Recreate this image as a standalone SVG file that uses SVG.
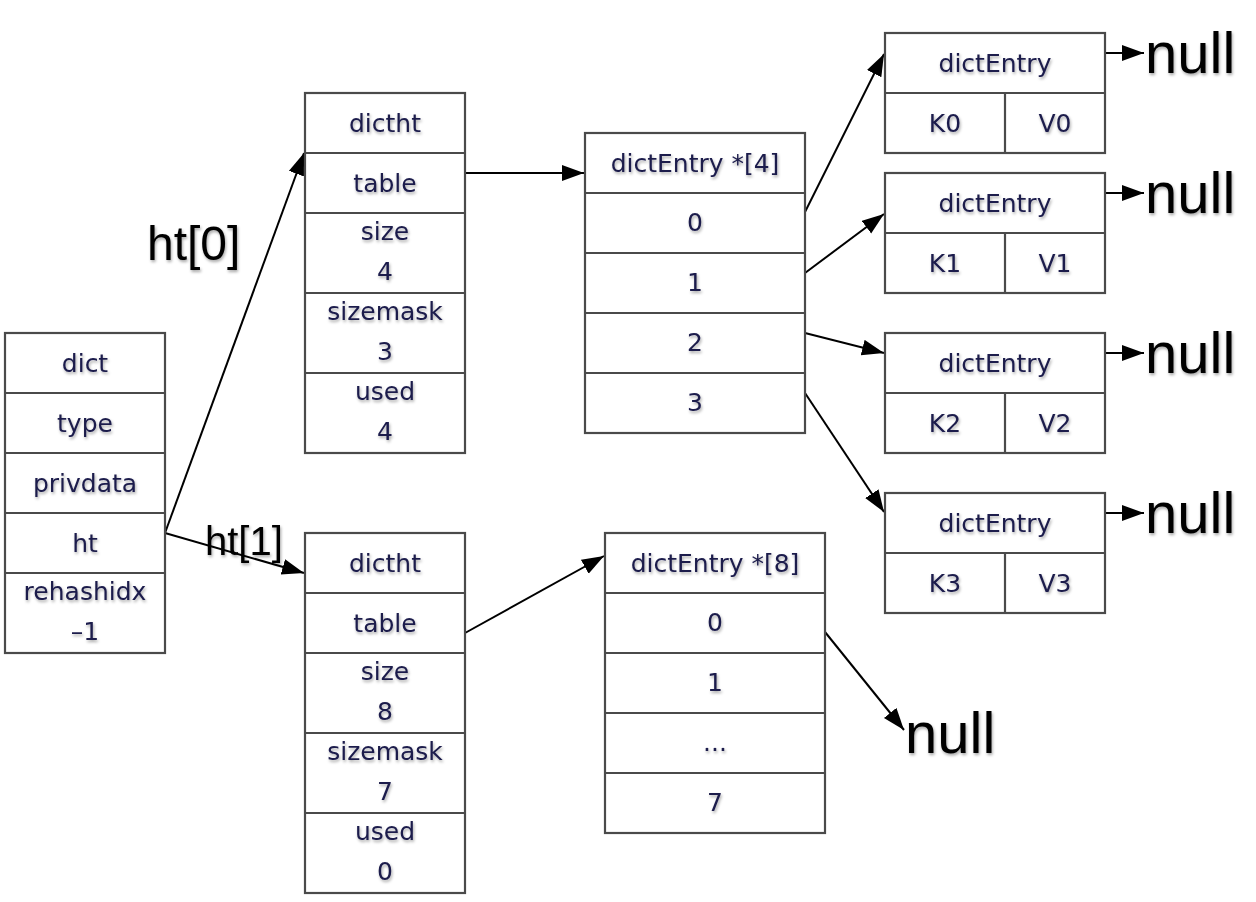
<svg xmlns="http://www.w3.org/2000/svg" width="1256" height="902" viewBox="0 0 1256 902">
<style>
.box{fill:#fff;stroke:#4a4a4a;stroke-width:2.2}
.sep{stroke:#4a4a4a;stroke-width:2.2}
.t{font-family:"DejaVu Sans",sans-serif;font-size:25px;fill:#1b1b4b;text-anchor:middle;filter:url(#sh)}
.big{font-family:"Liberation Sans",Arial,sans-serif;fill:#000;filter:url(#sh)}
.c{stroke:#000;stroke-width:2;fill:none;marker-end:url(#ah)}
</style>
<defs>
<filter id="sh" x="-20%" y="-30%" width="140%" height="170%">
<feDropShadow dx="1" dy="2" stdDeviation="1.5" flood-color="#000" flood-opacity="0.35"/>
</filter>
<marker id="ah" markerUnits="userSpaceOnUse" markerWidth="24" markerHeight="18" refX="22" refY="8" orient="auto">
<path d="M0,0 L22,8 L0,16 z" fill="#000"/>
</marker>
</defs>
<rect width="1256" height="902" fill="#fff"/>

<g id="connectors">
<line class="c" x1="165" y1="533" x2="304" y2="153"/>
<line class="c" x1="165" y1="533" x2="304" y2="573"/>
<line class="c" x1="465" y1="173" x2="584" y2="173"/>
<line class="c" x1="465" y1="633" x2="604" y2="556"/>
<line class="c" x1="805" y1="212" x2="884" y2="54"/>
<line class="c" x1="805" y1="273" x2="884" y2="214"/>
<line class="c" x1="805" y1="333" x2="884" y2="353"/>
<line class="c" x1="805" y1="393" x2="884" y2="512"/>
<line class="c" x1="825" y1="632" x2="904" y2="730"/>
<line class="c" x1="1105" y1="53" x2="1144" y2="53"/>
<line class="c" x1="1105" y1="193" x2="1144" y2="193"/>
<line class="c" x1="1105" y1="353" x2="1144" y2="353"/>
<line class="c" x1="1105" y1="513" x2="1144" y2="513"/>
</g>

<g id="labels">
<text class="big" x="147" y="260" font-size="48">ht[0]</text>
<text class="big" x="205" y="555" font-size="40">ht[1]</text>
<text class="big" x="1145" y="73" font-size="58">null</text>
<text class="big" x="1145" y="213" font-size="58">null</text>
<text class="big" x="1145" y="373" font-size="58">null</text>
<text class="big" x="1145" y="533" font-size="58">null</text>
<text class="big" x="905" y="753" font-size="58">null</text>
</g>

<g id="dict">
<rect class="box" x="5" y="333" width="160" height="320"/>
<line class="sep" x1="5" y1="393" x2="165" y2="393"/>
<line class="sep" x1="5" y1="453" x2="165" y2="453"/>
<line class="sep" x1="5" y1="513" x2="165" y2="513"/>
<line class="sep" x1="5" y1="573" x2="165" y2="573"/>
<text class="t" x="85" y="372">dict</text>
<text class="t" x="85" y="432">type</text>
<text class="t" x="85" y="492">privdata</text>
<text class="t" x="85" y="552">ht</text>
<text class="t" x="85" y="600">rehashidx</text>
<text class="t" x="85" y="640">–1</text>
</g>

<g id="dictht0">
<rect class="box" x="305" y="93" width="160" height="360"/>
<line class="sep" x1="305" y1="153" x2="465" y2="153"/>
<line class="sep" x1="305" y1="213" x2="465" y2="213"/>
<line class="sep" x1="305" y1="293" x2="465" y2="293"/>
<line class="sep" x1="305" y1="373" x2="465" y2="373"/>
<text class="t" x="385" y="132">dictht</text>
<text class="t" x="385" y="192">table</text>
<text class="t" x="385" y="240">size</text>
<text class="t" x="385" y="280">4</text>
<text class="t" x="385" y="320">sizemask</text>
<text class="t" x="385" y="360">3</text>
<text class="t" x="385" y="400">used</text>
<text class="t" x="385" y="440">4</text>
</g>

<g id="dictht1">
<rect class="box" x="305" y="533" width="160" height="360"/>
<line class="sep" x1="305" y1="593" x2="465" y2="593"/>
<line class="sep" x1="305" y1="653" x2="465" y2="653"/>
<line class="sep" x1="305" y1="733" x2="465" y2="733"/>
<line class="sep" x1="305" y1="813" x2="465" y2="813"/>
<text class="t" x="385" y="572">dictht</text>
<text class="t" x="385" y="632">table</text>
<text class="t" x="385" y="680">size</text>
<text class="t" x="385" y="720">8</text>
<text class="t" x="385" y="760">sizemask</text>
<text class="t" x="385" y="800">7</text>
<text class="t" x="385" y="840">used</text>
<text class="t" x="385" y="880">0</text>
</g>

<g id="table4">
<rect class="box" x="585" y="133" width="220" height="300"/>
<line class="sep" x1="585" y1="193" x2="805" y2="193"/>
<line class="sep" x1="585" y1="253" x2="805" y2="253"/>
<line class="sep" x1="585" y1="313" x2="805" y2="313"/>
<line class="sep" x1="585" y1="373" x2="805" y2="373"/>
<text class="t" x="695" y="172">dictEntry *[4]</text>
<text class="t" x="695" y="231">0</text>
<text class="t" x="695" y="291">1</text>
<text class="t" x="695" y="351">2</text>
<text class="t" x="695" y="411">3</text>
</g>

<g id="table8">
<rect class="box" x="605" y="533" width="220" height="300"/>
<line class="sep" x1="605" y1="593" x2="825" y2="593"/>
<line class="sep" x1="605" y1="653" x2="825" y2="653"/>
<line class="sep" x1="605" y1="713" x2="825" y2="713"/>
<line class="sep" x1="605" y1="773" x2="825" y2="773"/>
<text class="t" x="715" y="572">dictEntry *[8]</text>
<text class="t" x="715" y="631">0</text>
<text class="t" x="715" y="691">1</text>
<text class="t" x="715" y="751">...</text>
<text class="t" x="715" y="811">7</text>
</g>

<g id="entry0">
<rect class="box" x="885" y="33" width="220" height="120"/>
<line class="sep" x1="885" y1="93" x2="1105" y2="93"/>
<line class="sep" x1="1005" y1="93" x2="1005" y2="153"/>
<text class="t" x="995" y="72">dictEntry</text>
<text class="t" x="945" y="132">K0</text>
<text class="t" x="1055" y="132">V0</text>
</g>

<g id="entry1">
<rect class="box" x="885" y="173" width="220" height="120"/>
<line class="sep" x1="885" y1="233" x2="1105" y2="233"/>
<line class="sep" x1="1005" y1="233" x2="1005" y2="293"/>
<text class="t" x="995" y="212">dictEntry</text>
<text class="t" x="945" y="272">K1</text>
<text class="t" x="1055" y="272">V1</text>
</g>

<g id="entry2">
<rect class="box" x="885" y="333" width="220" height="120"/>
<line class="sep" x1="885" y1="393" x2="1105" y2="393"/>
<line class="sep" x1="1005" y1="393" x2="1005" y2="453"/>
<text class="t" x="995" y="372">dictEntry</text>
<text class="t" x="945" y="432">K2</text>
<text class="t" x="1055" y="432">V2</text>
</g>

<g id="entry3">
<rect class="box" x="885" y="493" width="220" height="120"/>
<line class="sep" x1="885" y1="553" x2="1105" y2="553"/>
<line class="sep" x1="1005" y1="553" x2="1005" y2="613"/>
<text class="t" x="995" y="532">dictEntry</text>
<text class="t" x="945" y="592">K3</text>
<text class="t" x="1055" y="592">V3</text>
</g>
</svg>
